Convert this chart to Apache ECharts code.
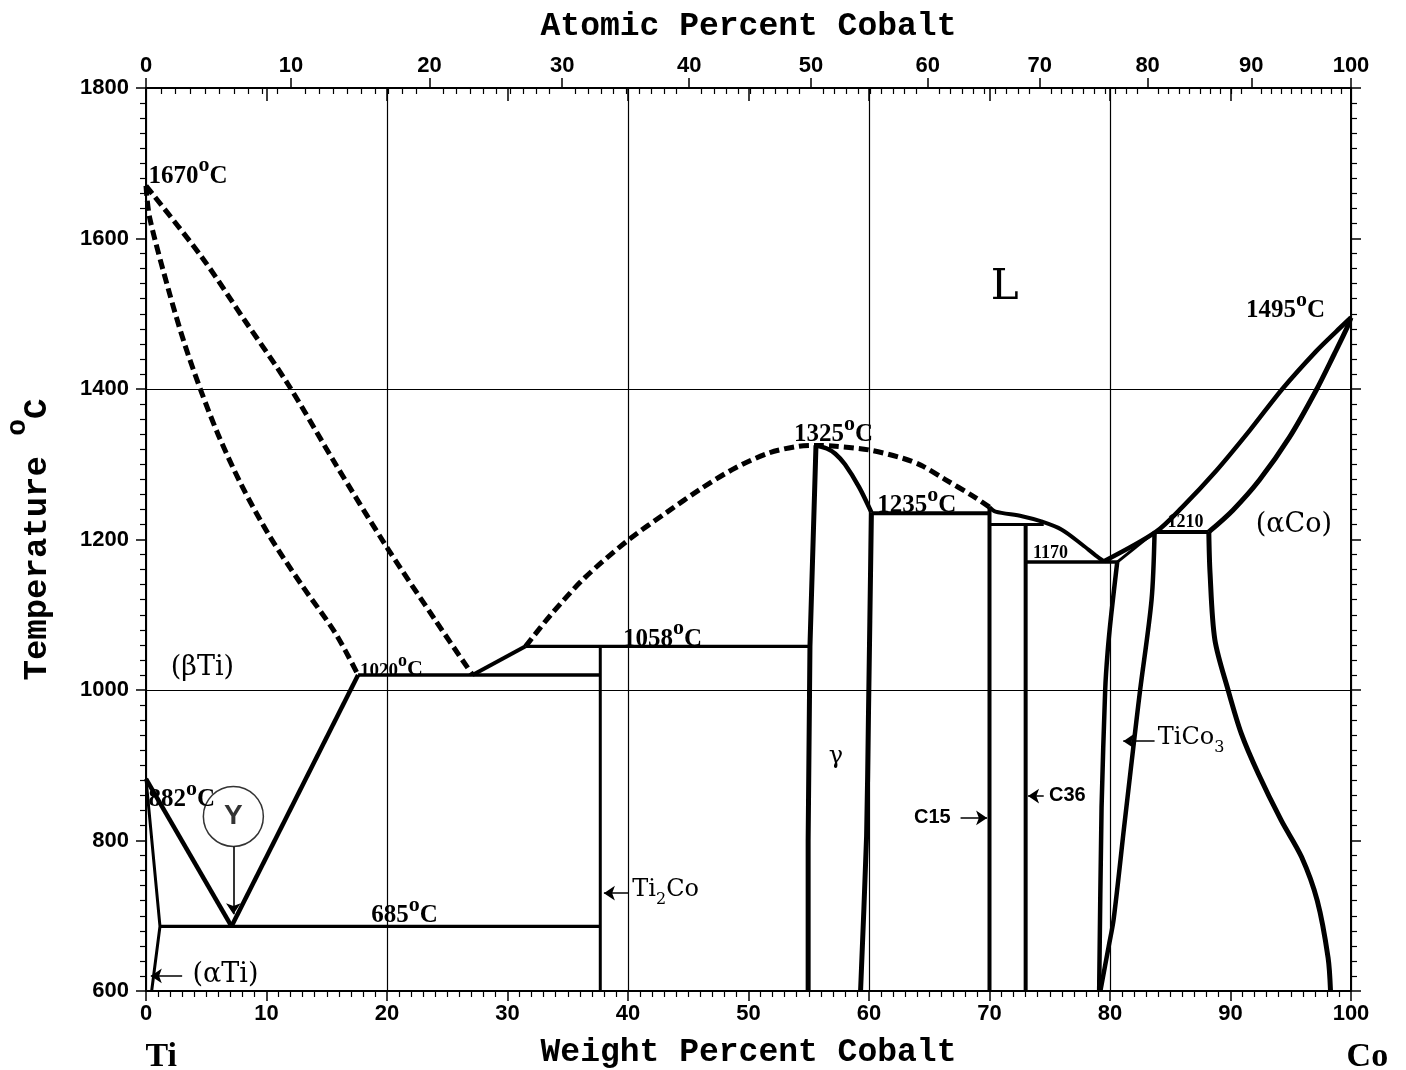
<!DOCTYPE html>
<html>
<head>
<meta charset="utf-8">
<script src="https://cdn.jsdelivr.net/npm/echarts@6/dist/echarts.min.js"></script>
<style>
  html, body { margin: 0; background: #fff; }
  #main { width: 1406px; height: 1070px; }
</style>
</head>
<body>
<div id="main"></div>
<script>
// Ti-Co phase diagram: weight % Co (x) vs temperature in °C (y)
const M_TI = 47.867;
const M_CO = 58.933;

const wtTicks = [0, 10, 20, 30, 40, 50, 60, 70, 80, 90, 100];
const tempTicks = [600, 800, 1000, 1200, 1400, 1600, 1800];
const atomicTicks = [0, 10, 20, 30, 40, 50, 60, 70, 80, 90, 100];
const atomicMinor = [];
for (let a = 1; a < 100; a++) if (a % 10) atomicMinor.push(a);

// phase boundaries [wt% Co, °C]
const liquidusTi = [[0, 1670], [4.6, 1576], [8.2, 1491], [11.8, 1406], [15.7, 1301], [19.9, 1192], [24.0, 1093], [27.1, 1020]];
const solidusBetaTi = [[0, 1670], [0.3, 1628], [1.9, 1530], [3.2, 1460], [4.6, 1396], [6.0, 1339], [7.9, 1273], [10.2, 1206], [12.9, 1140], [15.7, 1076], [17.6, 1020]];
const eutectic1020 = [[17.6, 1020], [37.7, 1020]];
const betaSolvus = [[7.1, 686], [17.6, 1020]];
const betaTransus = [[0, 882], [7.1, 686]];
const alphaTi = [[0, 882], [1.16, 686], [0.47, 600]];
const eutectoid685 = [[1.16, 686], [37.7, 686]];
const liquidusTi2Co = [[27.1, 1020], [31.5, 1058]];
const liquidusDome = [[31.5, 1058], [33.6, 1100], [36.4, 1149], [40, 1199], [43.3, 1237], [46.1, 1268], [48.9, 1295], [51.7, 1315], [54.2, 1324], [55.6, 1325], [57.2, 1324], [60, 1319], [62.8, 1308], [64.4, 1298], [66.3, 1280], [68.6, 1258], [70.0, 1243]];
const ti2Co = [[37.7, 1058], [37.7, 600]];
const peritectic1058 = [[31.5, 1058], [55.1, 1058]];
const gammaLeft = [[55.6, 1325], [55.1, 1058], [54.95, 800], [54.95, 600]];
const gammaSolidus = [[55.6, 1325], [56.5, 1321], [57.2, 1314], [58.0, 1300], [59.2, 1269], [60.2, 1236]];
const gammaRight = [[60.2, 1236], [59.95, 960], [59.8, 806], [59.3, 600]];
const peritectic1235 = [[60.2, 1235], [70.0, 1235]];
const c15 = [[70.0, 1243], [70.0, 600]];
const liquidusC15 = [[70.0, 1243], [70.5, 1237], [72.7, 1231], [74.3, 1224], [76.0, 1213], [77.7, 1193], [78.8, 1179], [79.5, 1171]];
const c36Top = [[70.0, 1220], [74.5, 1220]];
const c36 = [[73.0, 1220], [73.0, 600]];
const eutectic1170 = [[73.0, 1170], [80.7, 1170]];
const tiCo3Left = [[80.6, 1170], [80.1, 1100], [79.8, 1050], [79.6, 1000], [79.3, 844], [79.1, 600]];
const tiCo3Right = [[83.7, 1210], [83.45, 1120], [82.5, 1000], [82.2, 960], [81.2, 822], [80.3, 695], [79.9, 660], [79.2, 600]];
const tiCo3Solidus = [[80.6, 1170], [83.7, 1210]];
const liquidusCo = [[79.5, 1171], [83.8, 1210], [86.0, 1243], [88.8, 1291], [91.6, 1345], [94.3, 1400], [97.1, 1450], [98.75, 1476], [100, 1495]];
const peritectic1210 = [[83.8, 1210], [88.2, 1210]];
const solidusCo = [[88.2, 1210], [90.2, 1239], [92.4, 1279], [94.9, 1336], [97.1, 1398], [98.6, 1446], [99.6, 1479], [100, 1495]];
const solvusCo = [[88.2, 1210], [88.3, 1156], [88.7, 1067], [89.8, 1000], [90.9, 942], [92.3, 889], [94.2, 827], [95.9, 778], [97.2, 720], [98.1, 644], [98.3, 600]];

// arrows [from, to]
const arrows = [
  [[7.25, 792], [7.25, 702]],
  [[3.0, 620], [0.4, 620]],
  [[40.0, 730], [38.0, 730]],
  [[67.6, 830], [69.8, 830]],
  [[74.5, 859], [73.2, 859]],
  [[83.7, 932], [81.1, 932]]
];

function deg(t) { return '{n|' + t + '}{s|o}{n|C}'; }
function degSmall(t) { return '{ns|' + t + '}{ss|o}{cs|C}'; }

// [wt, °C, text, align]
const notes = [
  [0.25, 1688, deg('1670'), 'left'],
  [17.8, 1031, degSmall('1020'), 'left'],
  [0.25, 860, deg('882'), 'left'],
  [21.5, 705, deg('685'), 'center'],
  [42.9, 1073, deg('1058'), 'center'],
  [57.1, 1345, deg('1325'), 'center'],
  [64.0, 1250, deg('1235'), 'center'],
  [94.6, 1509, deg('1495'), 'center'],
  [75.1, 1181, '{m|1170}', 'center'],
  [86.3, 1222, '{m|1210}', 'center'],
  [4.73, 1029, '{p|(βTi)}', 'center'],
  [6.64, 620, '{p|(αTi)}', 'center'],
  [95.3, 1219, '{p|(αCo)}', 'center'],
  [71.3, 1534, '{big|L}', 'center'],
  [57.3, 910, '{g|γ}', 'center'],
  [40.4, 730, '{t|Ti}{sub|2}{t|Co}', 'left'],
  [84.0, 932, '{t|TiCo}{sub|3}', 'left'],
  [65.3, 830, '{b|C15}', 'center'],
  [76.5, 859, '{b|C36}', 'center'],
  [1.3, 512, '{e|Ti}', 'center'],
  [101.4, 512, '{e|Co}', 'center']
];
const circleY = [[7.25, 832]];

function atToWt(a) { return a * M_CO / (a * M_CO + (100 - a) * M_TI) * 100; }
function wtToAt(w) { return (w / M_CO) / (w / M_CO + (100 - w) / M_TI) * 100; }

const serif = 'DejaVu Serif';
const tnr = 'Liberation Serif';
const sans = 'Liberation Sans';
const mono = 'Liberation Mono';
const tickFont = { fontFamily: sans, fontWeight: 'bold', fontSize: 22, color: '#000' };
const titleFont = { fontFamily: mono, fontWeight: 'bold', fontSize: 33, color: '#000' };

function curve(data, width, dashed, smooth) {
  return {
    type: 'line', data: data, symbol: 'none', smooth: smooth || false,
    silent: true, animation: false, z: 5,
    lineStyle: { color: '#000', width: width, type: dashed ? [10, 5] : 'solid', cap: 'butt', join: 'round' }
  };
}

const chart = echarts.init(document.getElementById('main'), null, { renderer: 'canvas' });

const option = {
  backgroundColor: '#fff',
  animation: false,
  grid: { left: 146, right: 55, top: 88, bottom: 79, containLabel: false, outerBoundsMode: 'none' },
  xAxis: [
    {
      type: 'value', position: 'bottom', min: 0, max: 100, interval: 10,
      name: 'Weight Percent Cobalt', nameLocation: 'middle', nameGap: 45, nameTextStyle: titleFont,
      axisLine: { show: true, onZero: false, lineStyle: { color: '#000', width: 2 } },
      axisTick: { show: true, length: 10, lineStyle: { color: '#000', width: 1.5 } },
      minorTick: { show: true, splitNumber: 10, length: 6, lineStyle: { color: '#000', width: 1.2 } },
      axisLabel: Object.assign({ margin: 12, formatter: function (v) { return String(v); } }, tickFont),
      splitLine: { show: false }
    },
    {
      type: 'value', position: 'top', min: 0, max: 100,
      name: 'Atomic Percent Cobalt', nameLocation: 'middle', nameGap: 45, nameTextStyle: titleFont,
      axisLine: { show: true, onZero: false, lineStyle: { color: '#000', width: 2 } },
      axisTick: { show: true, length: 10, customValues: atomicTicks.map(atToWt), lineStyle: { color: '#000', width: 1.5 } },
      axisLabel: Object.assign({
        margin: 11, customValues: atomicTicks.map(atToWt),
        formatter: function (v) { return String(Math.round(wtToAt(v))); }
      }, tickFont),
      splitLine: { show: false }
    },
    {
      type: 'value', position: 'top', min: 0, max: 100,
      axisLine: { show: false },
      axisTick: { show: true, inside: true, length: 6, customValues: atomicMinor.map(atToWt), lineStyle: { color: '#000', width: 1.2 } },
      axisLabel: { show: false },
      splitLine: { show: false }
    },
    {
      type: 'value', position: 'top', min: 0, max: 100, interval: 10,
      axisLine: { show: false },
      axisTick: { show: true, inside: true, length: 13, lineStyle: { color: '#000', width: 1.5 } },
      axisLabel: { show: false },
      splitLine: { show: false }
    },
    {
      type: 'value', position: 'bottom', min: 0, max: 100, interval: 20,
      axisLine: { show: false }, axisTick: { show: false }, axisLabel: { show: false },
      splitLine: { show: true, lineStyle: { color: '#000', width: 1.2 } }
    }
  ],
  yAxis: [
    {
      type: 'value', position: 'left', min: 600, max: 1800, interval: 200,
      name: '{t|Temperature }{s|o}{t|C}', nameLocation: 'middle', nameGap: 92,
      nameTextStyle: Object.assign({
        rich: {
          t: { fontFamily: mono, fontWeight: 'bold', fontSize: 34, lineHeight: 50, verticalAlign: 'bottom', color: '#000' },
          s: { fontFamily: mono, fontWeight: 'bold', fontSize: 28, lineHeight: 16, verticalAlign: 'top', color: '#000' }
        }
      }, titleFont),
      axisLine: { show: true, onZero: false, lineStyle: { color: '#000', width: 2 } },
      axisTick: { show: true, length: 10, lineStyle: { color: '#000', width: 1.5 } },
      minorTick: { show: true, splitNumber: 10, length: 6, lineStyle: { color: '#000', width: 1.2 } },
      axisLabel: Object.assign({ margin: 17, formatter: function (v) { return String(v); } }, tickFont),
      splitLine: { show: false }
    },
    {
      type: 'value', position: 'right', min: 600, max: 1800, interval: 200,
      axisLine: { show: true, onZero: false, lineStyle: { color: '#000', width: 2 } },
      axisTick: { show: true, length: 10, lineStyle: { color: '#000', width: 1.5 } },
      minorTick: { show: true, splitNumber: 10, length: 6, lineStyle: { color: '#000', width: 1.2 } },
      axisLabel: { show: false },
      splitLine: { show: false }
    },
    {
      type: 'value', position: 'left', min: 600, max: 1800, interval: 400,
      axisLine: { show: false }, axisTick: { show: false }, axisLabel: { show: false },
      splitLine: { show: true, lineStyle: { color: '#000', width: 1.2 } }
    }
  ],
  series: [
    curve(liquidusTi, 5, true, 0.3),
    curve(solidusBetaTi, 5, true, 0.3),
    curve(liquidusDome, 5, true, 0.3),
    curve(eutectic1020, 3.5),
    curve(betaSolvus, 4.5),
    curve(betaTransus, 4.5),
    curve(alphaTi, 3),
    curve(eutectoid685, 3.2),
    curve(liquidusTi2Co, 4),
    curve(ti2Co, 3),
    curve(peritectic1058, 3.2),
    curve(gammaLeft, 5),
    curve(gammaSolidus, 4.5, false, 0.3),
    curve(gammaRight, 5, false, 0.2),
    curve(peritectic1235, 4),
    curve(c15, 4),
    curve(liquidusC15, 4, false, 0.3),
    curve(c36Top, 3),
    curve(c36, 4),
    curve(eutectic1170, 3.5),
    curve(tiCo3Left, 4.5, false, 0.2),
    curve(tiCo3Right, 4.5, false, 0.3),
    curve(tiCo3Solidus, 3),
    curve(liquidusCo, 4.5, false, 0.3),
    curve(peritectic1210, 4),
    curve(solidusCo, 5, false, 0.3),
    curve(solvusCo, 5, false, 0.3),
    {
      type: 'lines', coordinateSystem: 'cartesian2d', silent: true, animation: false, z: 6,
      symbol: ['none', 'arrow'], symbolSize: 11,
      lineStyle: { color: '#000', width: 1.6, opacity: 1, curveness: 0 },
      data: arrows.map(function (a) { return { coords: a }; })
    },
    {
      type: 'scatter', data: circleY, symbol: 'circle', symbolSize: 60, silent: true, animation: false, z: 6,
      itemStyle: { color: '#fff', borderColor: '#000', borderWidth: 1.5 },
      label: { show: true, position: 'inside', formatter: 'Y', fontFamily: sans, fontWeight: 'bold', fontSize: 28, color: '#000' }
    },
    {
      type: 'scatter', clip: false, silent: true, animation: false, z: 7,
      symbolSize: 1, itemStyle: { color: 'rgba(0,0,0,0)' },
      data: notes.map(function (n) {
        return {
          value: [n[0], n[1]],
          label: { show: true, position: [0, 0], align: n[3], verticalAlign: 'middle', formatter: n[2], color: '#000' }
        };
      }),
      label: {
        show: true, color: '#000', opacity: 1,
        rich: {
          n: { fontFamily: tnr, fontWeight: 'bold', fontSize: 25, lineHeight: 34, verticalAlign: 'bottom', color: '#000' },
          s: { fontFamily: tnr, fontWeight: 'bold', fontSize: 22, lineHeight: 16, verticalAlign: 'top', color: '#000' },
          ns: { fontFamily: tnr, fontWeight: 'bold', fontSize: 19, lineHeight: 28, verticalAlign: 'bottom', color: '#000' },
          ss: { fontFamily: tnr, fontWeight: 'bold', fontSize: 18, lineHeight: 12, verticalAlign: 'top', color: '#000' },
          cs: { fontFamily: tnr, fontWeight: 'bold', fontSize: 22, lineHeight: 28, verticalAlign: 'bottom', color: '#000' },
          m: { fontFamily: tnr, fontWeight: 'bold', fontSize: 18, color: '#000' },
          p: { fontFamily: serif, fontSize: 27, color: '#000' },
          big: { fontFamily: serif, fontSize: 42, color: '#000' },
          g: { fontFamily: serif, fontSize: 24, color: '#000' },
          t: { fontFamily: serif, fontSize: 24, lineHeight: 30, verticalAlign: 'top', color: '#000' },
          sub: { fontFamily: serif, fontSize: 16, lineHeight: 17, verticalAlign: 'bottom', color: '#000' },
          b: { fontFamily: sans, fontWeight: 'bold', fontSize: 20, color: '#000' },
          e: { fontFamily: tnr, fontWeight: 'bold', fontSize: 34, color: '#000' }
        }
      }
    }
  ]
};

chart.setOption(option);
</script>
</body>
</html>
